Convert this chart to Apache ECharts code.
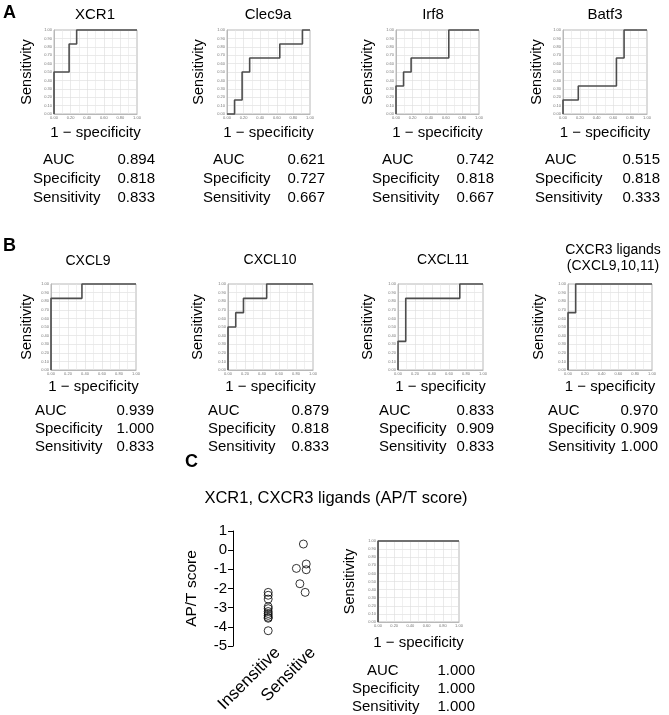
<!DOCTYPE html>
<html><head><meta charset="utf-8">
<script src="https://cdn.jsdelivr.net/npm/echarts@6/dist/echarts.min.js"></script>
<style>html,body{margin:0;padding:0;background:#fff}#c{width:669px;height:715px}</style>
</head><body><div id="c"></div>
<script>
// ---------- DATA ----------
// ROC curves: [1 - specificity, sensitivity]
const rocXCR1   = [[0,0],[0,0.5],[0.182,0.5],[0.182,0.833],[0.273,0.833],[0.273,1],[1,1]];
const rocClec9a = [[0,0],[0.091,0],[0.091,0.167],[0.182,0.167],[0.182,0.5],[0.273,0.5],[0.273,0.667],[0.636,0.667],[0.636,0.833],[0.909,0.833],[0.909,1],[1,1]];
const rocIrf8   = [[0,0],[0,0.333],[0.091,0.333],[0.091,0.5],[0.182,0.5],[0.182,0.667],[0.636,0.667],[0.636,1],[1,1]];
const rocBatf3  = [[0,0],[0,0.167],[0.182,0.167],[0.182,0.333],[0.636,0.333],[0.636,0.667],[0.727,0.667],[0.727,1],[1,1]];
const rocCXCL9  = [[0,0],[0,0.833],[0.364,0.833],[0.364,1],[1,1]];
const rocCXCL10 = [[0,0],[0,0.5],[0.091,0.5],[0.091,0.667],[0.182,0.667],[0.182,0.833],[0.455,0.833],[0.455,1],[1,1]];
const rocCXCL11 = [[0,0],[0,0.333],[0.091,0.333],[0.091,0.833],[0.727,0.833],[0.727,1],[1,1]];
const rocCXCR3  = [[0,0],[0,0.667],[0.091,0.667],[0.091,1],[1,1]];
const rocAPT    = [[0,0],[0,1],[1,1]];

const statLabels = ['AUC','Specificity','Sensitivity'];
const statsXCR1   = ['0.894','0.818','0.833'];
const statsClec9a = ['0.621','0.727','0.667'];
const statsIrf8   = ['0.742','0.818','0.667'];
const statsBatf3  = ['0.515','0.818','0.333'];
const statsCXCL9  = ['0.939','1.000','0.833'];
const statsCXCL10 = ['0.879','0.818','0.833'];
const statsCXCL11 = ['0.833','0.909','0.833'];
const statsCXCR3  = ['0.970','0.909','1.000'];
const statsAPT    = ['1.000','1.000','1.000'];

const xTicks = [0,0.2,0.4,0.6,0.8,1.0];
const yTicks = [0,0.1,0.2,0.3,0.4,0.5,0.6,0.7,0.8,0.9,1.0];

// AP/T score scatter
const groups = ['Insensitive','Sensitive'];
const insensitiveScores = [-2.2,-2.35,-2.55,-2.95,-3.05,-3.2,-3.3,-3.4,-3.5,-3.55,-4.2];
const sensitiveScores   = [0.32,-0.72,-0.95,-1.02,-1.75,-2.2];
const sensitiveJitter   = [0,0.08,-0.2,0.08,-0.1,0.05];
const scoreTicks = [1,0,-1,-2,-3,-4,-5];

// ---------- LAYOUT ----------
const FONT = "'Liberation Sans', Arial, sans-serif";
const panels = [
  {title:['XCR1'],   data:rocXCR1,   stats:statsXCR1,   left:54,  top:30,  w:83, h:84, tx:95,  ty:15, yGap:20, xGap:11, lab:[43,33],  val:155, rowY:[160,179,198]},
  {title:['Clec9a'], data:rocClec9a, stats:statsClec9a, left:227, top:30,  w:83, h:84, tx:268, ty:15, yGap:21, xGap:11, lab:[213,203],val:325, rowY:[160,179,198]},
  {title:['Irf8'],   data:rocIrf8,   stats:statsIrf8,   left:396, top:30,  w:83, h:84, tx:433, ty:15, yGap:21, xGap:11, lab:[382,372],val:494, rowY:[160,179,198]},
  {title:['Batf3'],  data:rocBatf3,  stats:statsBatf3,  left:563, top:30,  w:84, h:84, tx:605, ty:15, yGap:19, xGap:11, lab:[545,535],val:660, rowY:[160,179,198]},
  {title:['CXCL9'],  data:rocCXCL9,  stats:statsCXCL9,  left:51,  top:284, w:85, h:86, tx:88,  ty:261, yGap:17, xGap:9, lab:[35,35],  val:154, rowY:[411,429,447], tfs:14},
  {title:['CXCL10'], data:rocCXCL10, stats:statsCXCL10, left:228, top:284, w:85, h:86, tx:270, ty:260, yGap:23, xGap:9, lab:[208,208],val:329, rowY:[411,429,447], tfs:14},
  {title:['CXCL11'], data:rocCXCL11, stats:statsCXCL11, left:398, top:284, w:85, h:86, tx:443, ty:260, yGap:23, xGap:9, lab:[379,379],val:494, rowY:[411,429,447], tfs:14},
  {title:['CXCR3 ligands','(CXCL9,10,11)'], data:rocCXCR3, stats:statsCXCR3, left:568, top:284, w:84, h:86, tx:613, ty:250, yGap:22, xGap:9, lab:[548,548],val:658, rowY:[411,429,447], tfs:14},
  {title:[], data:rocAPT, stats:statsAPT, left:378, top:541, w:81, h:81, tx:0, ty:0, yGap:21, xGap:13, lab:[367,352], val:475, rowY:[671,689,707]}
];

const grids = [], xAxes = [], yAxes = [], series = [], graphics = [];
function txt(x, y, s, fs, align, weight){
  graphics.push({type:'text', x:x, y:y, silent:true,
    style:{text:s, fill:'#000', font:(weight||'normal')+' '+fs+'px '+FONT, fontSize:fs, fontFamily:FONT, fontWeight:weight||'normal',
      align:align, textAlign:align, verticalAlign:'middle', textVerticalAlign:'middle'}});
}
panels.forEach((p, i) => {
  grids.push({left:p.left, top:p.top, width:p.w, height:p.h, show:true, borderColor:'#b8b8b8', borderWidth:1, backgroundColor:'#fff'});
  const lab = {fontSize:4, color:'#777', fontFamily:FONT, margin:2, formatter:v=>(+v).toFixed(2)};
  xAxes.push({type:'value', gridIndex:i, min:0, max:1, interval:0.2,
    axisLine:{show:true, onZero:false, lineStyle:{color:'#b8b8b8', width:1}}, axisTick:{show:false},
    axisLabel:Object.assign({}, lab, {customValues:xTicks}),
    splitLine:{show:true, lineStyle:{color:'#dcdcdc', width:0.6}},
    minorTick:{show:false, splitNumber:2}, minorSplitLine:{show:true, lineStyle:{color:'#e6e6e6', width:0.6}},
    name:'1 − specificity', nameLocation:'middle', nameGap:p.xGap,
    nameTextStyle:{fontSize:15, color:'#000', fontFamily:FONT}});
  yAxes.push({type:'value', gridIndex:i, min:0, max:1, interval:0.1,
    axisLine:{show:true, onZero:false, lineStyle:{color:'#b8b8b8', width:1}}, axisTick:{show:false},
    axisLabel:Object.assign({}, lab, {customValues:yTicks}),
    splitLine:{show:true, lineStyle:{color:'#dcdcdc', width:0.6}},
    name:'Sensitivity', nameLocation:'middle', nameGap:p.yGap,
    nameTextStyle:{fontSize:14.5, color:'#000', fontFamily:FONT}});
  series.push({type:'line', xAxisIndex:i, yAxisIndex:i, data:p.data, showSymbol:false, symbol:'none',
    lineStyle:{color:'#4d4d4d', width:1.6}, silent:true, animation:false, clip:false});
  p.title.forEach((t, k) => txt(p.tx, p.ty + k*16, t, p.tfs||15, 'center'));
  statLabels.forEach((s, k) => {
    txt(k===0 ? p.lab[0] : p.lab[1], p.rowY[k], s, 15, 'left');
    txt(p.val, p.rowY[k], p.stats[k], 15, 'right');
  });
});

// scatter panel
const si = panels.length;
const LABEL_SHIFT = 0.27; // label anchor offset (axis units) to the right of each group
grids.push({left:233, top:531, width:88, height:124});
xAxes.push({type:'value', gridIndex:si, min:-1, max:1.5, interval:1,
  axisLine:{show:false, onZero:false}, axisTick:{show:false}, splitLine:{show:false},
  axisLabel:{rotate:45, fontSize:17, color:'#000', fontFamily:FONT, margin:4,
    customValues:[0+LABEL_SHIFT, 1+LABEL_SHIFT],
    formatter:v => groups[Math.round(v - LABEL_SHIFT)] || ''}});
yAxes.push({type:'value', gridIndex:si, min:-5, max:1, interval:1,
  axisLine:{show:true, onZero:false, lineStyle:{color:'#000', width:1}},
  axisTick:{show:true, length:5, lineStyle:{color:'#000'}},
  splitLine:{show:false},
  axisLabel:{fontSize:15, color:'#000', fontFamily:FONT, margin:6, customValues:scoreTicks},
  name:'AP/T score', nameLocation:'middle', nameGap:33,
  nameTextStyle:{fontSize:15.5, color:'#000', fontFamily:FONT}});
const sc = {type:'scatter', xAxisIndex:si, yAxisIndex:si, symbol:'circle', symbolSize:8, silent:true,
  itemStyle:{color:'rgba(0,0,0,0)', borderColor:'#000', borderWidth:1}, clip:false};
series.push(Object.assign({}, sc, {data:insensitiveScores.map(v=>[0, v])}));
series.push(Object.assign({}, sc, {data:sensitiveScores.map((v,k)=>[1+sensitiveJitter[k], v])}));

// panel labels and C title
txt(3, 13, 'A', 18, 'left', 'bold');
txt(3, 246, 'B', 18, 'left', 'bold');
txt(185, 462, 'C', 18, 'left', 'bold');
txt(336, 498, 'XCR1, CXCR3 ligands (AP/T score)', 16.5, 'center');

const chart = echarts.init(document.getElementById('c'), null, {renderer:'canvas'});
chart.setOption({animation:false, grid:grids, xAxis:xAxes, yAxis:yAxes, series:series, graphic:graphics});
</script></body></html>
